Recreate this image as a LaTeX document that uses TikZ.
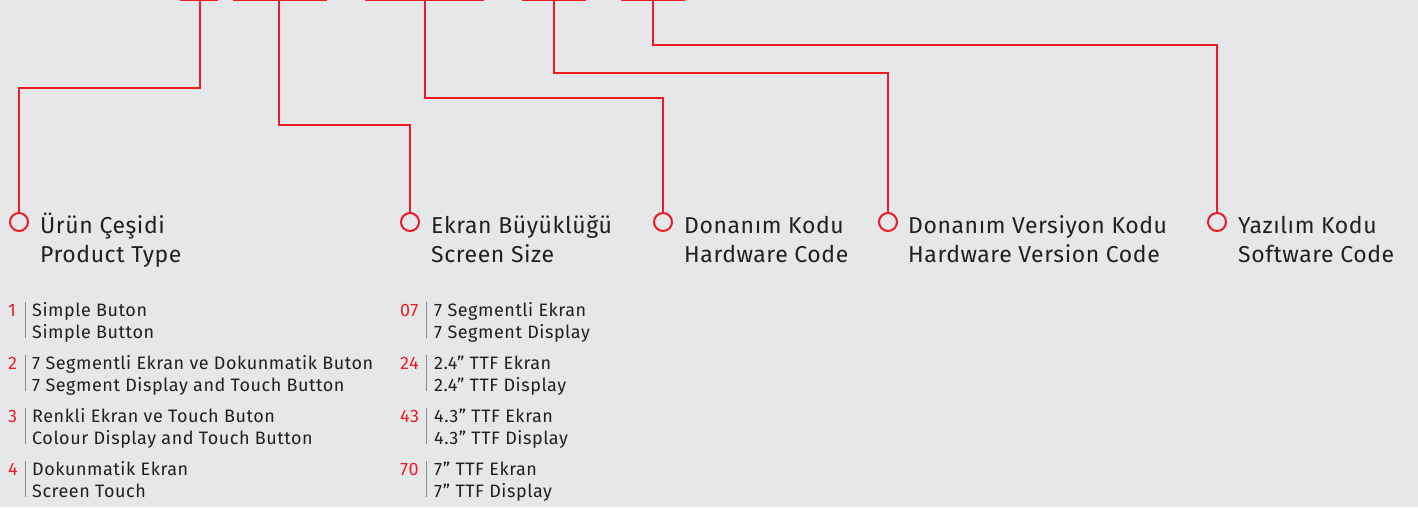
\documentclass[tikz,border=0pt]{standalone}
\usepackage{fontspec}
\setmainfont{Fira Sans}
\newfontfamily\headfont[LetterSpace=2.5]{Fira Sans}
\newfontfamily\listfont[LetterSpace=3]{Fira Sans}
\definecolor{bg}{HTML}{E6E7E8}
\definecolor{brand}{HTML}{ED1C24}
\definecolor{ink}{HTML}{231F20}
\definecolor{rule}{HTML}{8A8A8A}
\begin{document}
\begin{tikzpicture}[x=1pt,y=-1pt,
  wire/.style={draw=brand,line width=2pt},
  ring/.style={circle,draw=brand,line width=2pt,minimum size=18pt,inner sep=0pt,fill=bg},
  head/.style={anchor=base west,inner sep=0pt,align=left,text=ink,font=\headfont\fontsize{23}{29}\selectfont},
  num/.style={anchor=base west,inner sep=0pt,text=brand,font=\listfont\fontsize{18}{22}\selectfont},
  itemtext/.style={anchor=base west,inner sep=0pt,align=left,text=ink,font=\listfont\fontsize{18}{22}\selectfont},
  sep/.style={draw=rule,line width=1pt}]
\useasboundingbox (0,0) rectangle (1418,507);
\fill[bg] (0,0) rectangle (1418,507);
% top bars
\coordinate (a1) at (180,0); \coordinate (b1) at (218,0); \coordinate (t1) at (200,0);
\coordinate (a2) at (233,0); \coordinate (b2) at (327,0); \coordinate (t2) at (279,0);
\coordinate (a3) at (365,0); \coordinate (b3) at (484,0); \coordinate (t3) at (425,0);
\coordinate (a4) at (522,0); \coordinate (b4) at (586,0); \coordinate (t4) at (554,0);
\coordinate (a5) at (621,0); \coordinate (b5) at (685,0); \coordinate (t5) at (653,0);
\foreach \i in {1,...,5} {\draw[wire] (a\i) -- (b\i);}
% rings
\node[ring] (c1) at (19,222) {};
\node[ring] (c2) at (410,222) {};
\node[ring] (c3) at (663,222) {};
\node[ring] (c4) at (888,222) {};
\node[ring] (c5) at (1217,222) {};
% connectors
\draw[wire] (t1) -- ++(0,88) -| (c1.north);
\draw[wire] (t2) -- ++(0,125) -| (c2.north);
\draw[wire] (t3) -- ++(0,98) -| (c3.north);
\draw[wire] (t4) -- ++(0,73) -| (c4.north);
\draw[wire] (t5) -- ++(0,45) -| (c5.north);
% headings (base anchor = baseline of last line)
\node[head] (h1) at (40,262) {Ürün Çeşidi\\Product Type};
\node[head] (h2) at (431,262) {Ekran Büyüklüğü\\Screen Size};
\node[head] (h3) at (684,262) {Donanım Kodu\\Hardware Code};
\node[head] (h4) at (908,262) {Donanım Versiyon Kodu\\Hardware Version Code};
\node[head] (h5) at (1238,262) {Yazılım Kodu\\Software Code};
% left list
\foreach \n/\y/\txt in {1/316/{Simple Buton\\Simple Button},
  2/369/{7 Segmentli Ekran ve Dokunmatik Buton\\7 Segment Display and Touch Button},
  3/422/{Renkli Ekran ve Touch Buton\\Colour Display and Touch Button},
  4/475/{Dokunmatik Ekran\\Screen Touch}} {
  \node[num] (ln\n) at (8,\y) {\n};
  \node[itemtext] (lt\n) at (32,\y+22) {\txt};
  \draw[sep] (25,\y-14) -- (25,\y+22);
}
% right list
\foreach \k/\n/\y/\txt in {1/07/316/{7 Segmentli Ekran\\7 Segment Display},
  2/24/369/{2.4” TTF Ekran\\2.4” TTF Display},
  3/43/422/{4.3” TTF Ekran\\4.3” TTF Display},
  4/70/475/{7” TTF Ekran\\7” TTF Display}} {
  \node[num] (rn\k) at (400,\y) {\n};
  \node[itemtext] (rt\k) at (434,\y+22) {\txt};
  \draw[sep] (426,\y-14) -- (426,\y+22);
}
\end{tikzpicture}
\end{document}
